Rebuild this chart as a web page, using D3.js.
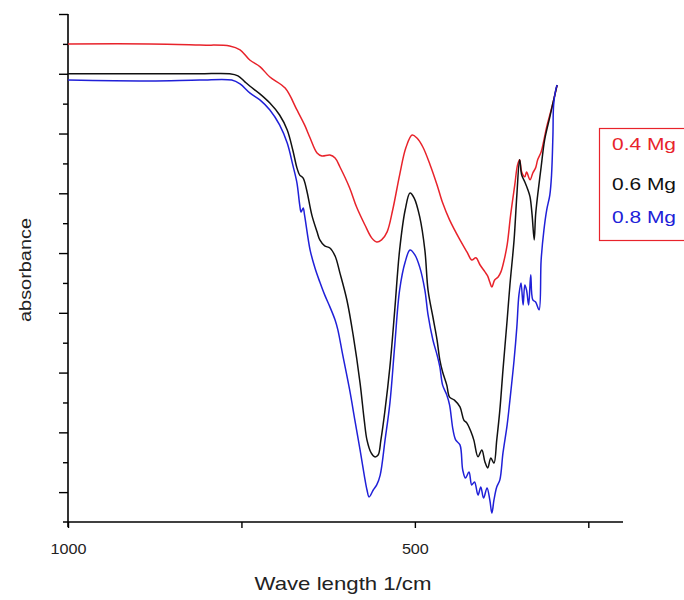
<!DOCTYPE html>
<html>
<head>
<meta charset="utf-8">
<script src="https://cdn.jsdelivr.net/npm/d3@7"></script>
<style>
  body { margin: 0; background: #fff; }
  svg { font-family: "Liberation Sans", Arial, sans-serif; }
</style>
</head>
<body>
<div id="chart"></div>
<script>
// wavenumber / absorbance pairs
const mg04 = [
  [1000,16.0],[882,16.0],[810,15.96],[767,15.93],[752,15.8],[738,15.46],[723,15.23],[709,14.89],
  [687,14.52],[670,13.79],[659,13.29],[651,12.85],[641,12.35],[634,12.25],[622.5,12.28],[615,12.18],
  [608,11.88],[594,11.18],[584,10.54],[572,9.94],[562,9.5],[555,9.37],[548,9.44],[540,9.71],
  [532,10.44],[522,11.61],[513,12.52],[504,12.95],[497,12.85],[488.5,12.55],[478,11.95],[468,11.28],
  [460,10.68],[450,10.11],[435,9.44],[425,9.04],[418,8.77],[412,8.84],[406,8.6],[399,8.37],
  [395,8.23],[392,8.03],[389,7.86],[385,8.1],[380,8.2],[376,8.37],[372,8.7],[367,9.27],
  [362,10.27],[356,11.28],[352,11.95],[349,12.12],[346,11.71],[341.5,11.55],[339,11.71],[334,11.45],
  [330,11.68],[326,11.85],[323,12.12],[318,12.38],[314,12.78],[310,13.22],[305.5,13.62],[301,14.02],[295,14.62]
];
const mg06 = [
  [1000,15.0],[882,15.0],[810,15.0],[767,15.0],[755,14.93],[745,14.73],[738,14.59],[723,14.32],
  [709,14.02],[695,13.62],[684,13.12],[676,12.45],[670,11.85],[666,11.61],[661,11.51],[656,11.11],
  [648.5,10.27],[641,9.71],[637,9.44],[630,9.24],[622.5,9.17],[615,8.9],[608,8.33],[598,7.43],
  [589,6.26],[579,4.65],[573,3.41],[569,2.74],[563,2.31],[558,2.18],[553,2.24],[549,2.74],
  [543,3.75],[536,5.19],[529,7.1],[522,9.1],[514,10.44],[507,11.01],[501,10.84],[493,10.21],
  [485.6,9.1],[481,7.76],[474,6.86],[468,6.09],[464,5.42],[460,5.02],[454,4.58],[450,4.18],
  [443,4.08],[435,3.85],[429.4,3.41],[425,3.31],[419,3.01],[415,2.74],[409,2.18],[403.5,2.41],
  [399,2.01],[395,1.81],[390.5,2.14],[386,1.97],[382,2.74],[377.5,3.75],[373,5.09],[367,6.76],
  [363,7.93],[357,9.44],[353,10.94],[349,12.12],[346,11.61],[341.5,11.38],[337,11.11],[334,10.88],
  [331,10.27],[328,9.44],[326,10.27],[323,10.94],[318,11.88],[313,12.78],[305.5,13.55],[300,14.12],[295,14.62]
];
const mg08 = [
  [1000,14.79],[882,14.76],[810,14.79],[764,14.79],[752,14.66],[738,14.36],[723,14.12],[709,13.79],
  [695,13.29],[684,12.68],[676,11.95],[670,11.35],[666,10.61],[664,10.37],[661,10.51],[659,10.27],
  [651,9.1],[644,8.5],[637,8.03],[630,7.6],[622.5,7.2],[615,6.76],[611,6.43],[604,5.59],
  [594,4.42],[586.5,3.41],[579,2.41],[573,1.57],[569,1.07],[566,0.84],[560,1.07],[555,1.24],
  [550,1.57],[543,2.74],[536,3.98],[529,5.92],[522,7.76],[514,8.7],[507,9.1],[500,8.94],
  [493,8.53],[485.6,7.76],[481,6.93],[474,6.09],[468,5.59],[464,5.19],[460,4.58],[454,4.25],
  [450,3.92],[445,3.08],[441,2.74],[435,2.58],[431,1.74],[427,1.47],[422,1.67],[418,1.24],
  [414,1.34],[409,0.9],[405,1.17],[401,0.8],[396,1.14],[392,0.74],[389,0.3],[386,0.74],
  [382,1.17],[377.5,1.41],[373,2.31],[367,3.25],[363,4.08],[357,5.42],[353,6.53],[350,7.6],
  [347,8.0],[344,7.26],[341.5,7.93],[339,7.76],[336,7.26],[333,8.27],[330,7.43],[326,7.36],
  [321,7.1],[318,8.77],[314,9.77],[310,10.44],[305.5,10.94],[303,11.61],[301,12.95],[300,13.96],
  [297,14.46],[295,14.62]
];
const seriesNames = ["0.4 Mg", "0.6 Mg", "0.8 Mg"];
const xTicks = [1000, 750, 500, 250];
const xLabels = { 1000: "1000", 500: "500" };
const yTicks = d3.range(1, 18);

const w = 684, h = 600;
const colors = ["#e8232b", "#111111", "#2020d8"];

const xScale = d3.scaleLinear().domain([1000, 200]).range([68, 623]);
const yScale = d3.scaleLinear().domain([0, 17]).range([522, 14]);

const svg = d3.select("#chart").append("svg")
    .attr("width", w)
    .attr("height", h)
    .style("background-color", "#fff");

// axes
const xAxis = d3.axisBottom(xScale)
    .tickValues(xTicks)
    .tickSize(6)
    .tickSizeOuter(0)
    .tickFormat(d => xLabels[d] || "");
const gx = svg.append("g")
    .attr("transform", "translate(0," + yScale(0) + ")")
    .call(xAxis);
gx.select(".domain").attr("d", "M63,0H" + xScale(200)).attr("stroke-width", 1.6);
gx.selectAll(".tick line").attr("stroke-width", 1.4);
gx.selectAll(".tick text")
    .attr("y", 32)
    .attr("dy", null)
    .style("font-size", "15px")
    .attr("fill", "#222")
    .attr("textLength", d => d == 1000 ? 36 : 27)
    .attr("lengthAdjust", "spacingAndGlyphs");

const yAxis = d3.axisLeft(yScale)
    .tickValues(yTicks)
    .tickSizeOuter(0)
    .tickFormat("");
const gy = svg.append("g")
    .attr("transform", "translate(" + xScale(1000) + ",0)")
    .call(yAxis);
gy.select(".domain").attr("d", "M0," + yScale(17) + "V" + (yScale(0) + 5)).attr("stroke-width", 1.6);
gy.selectAll(".tick line")
    .attr("x2", d => d % 2 ? -9 : -5)
    .attr("stroke-width", 1.4);

// curves
const line = d3.line()
    .curve(d3.curveCatmullRom.alpha(0.5))
    .x(d => xScale(d[0]))
    .y(d => yScale(d[1]));

[mg04, mg06, mg08].forEach((s, i) => {
    svg.append("path")
        .datum(s)
        .attr("fill", "none")
        .attr("stroke", colors[i])
        .attr("stroke-width", 1.5)
        .attr("stroke-linejoin", "round")
        .attr("d", line);
});

// axis titles
svg.append("text")
    .attr("x", 343)
    .attr("y", 590)
    .attr("text-anchor", "middle")
    .style("font-size", "19px")
    .attr("fill", "#222")
    .attr("textLength", 177)
    .attr("lengthAdjust", "spacingAndGlyphs")
    .text("Wave length 1/cm");
svg.append("text")
    .attr("transform", "translate(31,270) rotate(-90)")
    .attr("text-anchor", "middle")
    .style("font-size", "16px")
    .attr("fill", "#222")
    .attr("textLength", 104)
    .attr("lengthAdjust", "spacingAndGlyphs")
    .text("absorbance");

// legend
const legend = svg.append("g").attr("id", "legend");
legend.append("rect")
    .attr("x", 599.5)
    .attr("y", 128.5)
    .attr("width", 90)
    .attr("height", 112)
    .attr("fill", "none")
    .attr("stroke", "#e8232b")
    .attr("stroke-width", 1.2);
legend.selectAll("text.lg")
    .data(seriesNames)
    .enter()
    .append("text")
    .attr("class", "lg")
    .attr("x", 612)
    .attr("y", (d, i) => [150, 190, 223][i])
    .style("font-size", "17px")
    .attr("fill", (d, i) => colors[i])
    .attr("textLength", 64)
    .attr("lengthAdjust", "spacingAndGlyphs")
    .text(d => d);
</script>
</body>
</html>
